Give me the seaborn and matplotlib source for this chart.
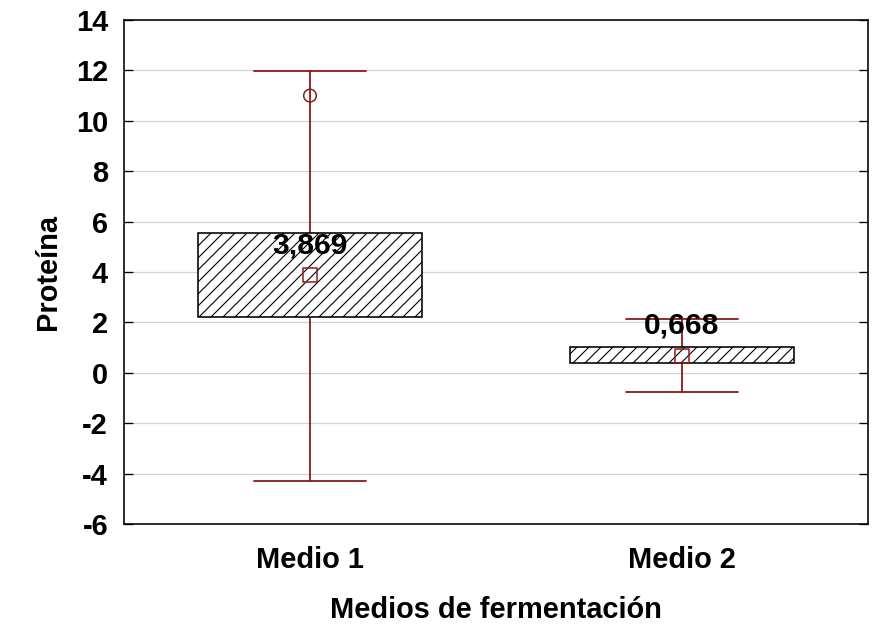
import matplotlib
matplotlib.use("Agg")
import matplotlib.pyplot as plt
import seaborn as sns
import pandas as pd

# Summary statistics per fermentation medium
categories = ["Medio 1", "Medio 2"]
means = [3.869, 0.668]
box_low = [2.21, 0.37]
box_high = [5.54, 1.02]
whisker_low = [-4.29, -0.77]
whisker_high = [11.98, 2.14]
outlier_cat = ["Medio 1"]
outlier_val = [11.0]
mean_labels = ["3,869", "0,668"]

yticks = [-6, -4, -2, 0, 2, 4, 6, 8, 10, 12, 14]

sns.set_style("white")
plt.rcParams["font.family"] = ["Liberation Sans", "DejaVu Sans"]
plt.rcParams["font.weight"] = "bold"
plt.rcParams["text.color"] = "black"
plt.rcParams["axes.labelcolor"] = "black"
plt.rcParams["hatch.linewidth"] = 1.1
plt.rcParams["hatch.color"] = "black"

DARK_RED = "#8b1a1a"
DPI = 72
fig = plt.figure(figsize=(872 / DPI, 630 / DPI), dpi=DPI)
ax = fig.add_axes([124 / 872, 1 - 524 / 630, 744 / 872, 504 / 630])

# Box/whisker summaries drawn from the stored statistics
stats = []
for i, cat in enumerate(categories):
    stats.append({
        "label": cat,
        "med": means[i],
        "q1": box_low[i],
        "q3": box_high[i],
        "whislo": whisker_low[i],
        "whishi": whisker_high[i],
        "mean": means[i],
        "fliers": [],
    })

bp = ax.bxp(
    stats,
    positions=range(len(categories)),
    widths=0.6,
    capwidths=0.3,
    patch_artist=True,
    showfliers=False,
    showmeans=False,
    boxprops=dict(facecolor="white", edgecolor="black", linewidth=1.6, hatch="//"),
    whiskerprops=dict(color=DARK_RED, linewidth=1.8),
    capprops=dict(color=DARK_RED, linewidth=1.8),
    medianprops=dict(linewidth=0, alpha=0),
    zorder=2,
)
for w in bp["whiskers"] + bp["caps"]:
    w.set_zorder(1)

means_df = pd.DataFrame({"Medio": categories, "Media": means})
out_df = pd.DataFrame({"Medio": outlier_cat, "Valor": outlier_val})

sns.scatterplot(data=means_df, x="Medio", y="Media", marker="s", s=190,
                facecolor="none", edgecolor=DARK_RED, linewidth=1.5,
                ax=ax, zorder=4, legend=False)
sns.scatterplot(data=out_df, x="Medio", y="Valor", marker="o", s=160,
                facecolor="none", edgecolor=DARK_RED, linewidth=1.5,
                ax=ax, zorder=4, legend=False)

for i, (m, lab) in enumerate(zip(means, mean_labels)):
    ax.annotate(lab, xy=(i, m), xytext=(0, 30), textcoords="offset points",
                ha="center", va="center", fontsize=30, fontweight="bold",
                color="black", zorder=5)

ax.set_xlim(-0.5, 1.5)
ax.set_ylim(-6, 14)
ax.set_yticks(yticks)
ax.set_yticklabels([str(t) for t in yticks])
ax.set_xticks(range(len(categories)))
ax.set_xticklabels(categories)

ax.yaxis.grid(True, color="#d4d4d4", linewidth=1.2)
ax.set_axisbelow(True)

for s in ax.spines.values():
    s.set_visible(True)
    s.set_color("black")
    s.set_linewidth(1.6)

ax.tick_params(axis="y", direction="in", length=9, width=1.3, left=True,
               right=True, labelsize=29, pad=16, colors="black")
ax.tick_params(axis="x", length=0, labelsize=29, pad=22, colors="black")

ax.set_xlabel("Medios de fermentación", fontsize=29, fontweight="bold",
              labelpad=22, color="black")
ax.set_ylabel("Proteína", fontsize=29, fontweight="bold", labelpad=14,
              color="black")

fig.savefig("out.png", dpi=DPI)
